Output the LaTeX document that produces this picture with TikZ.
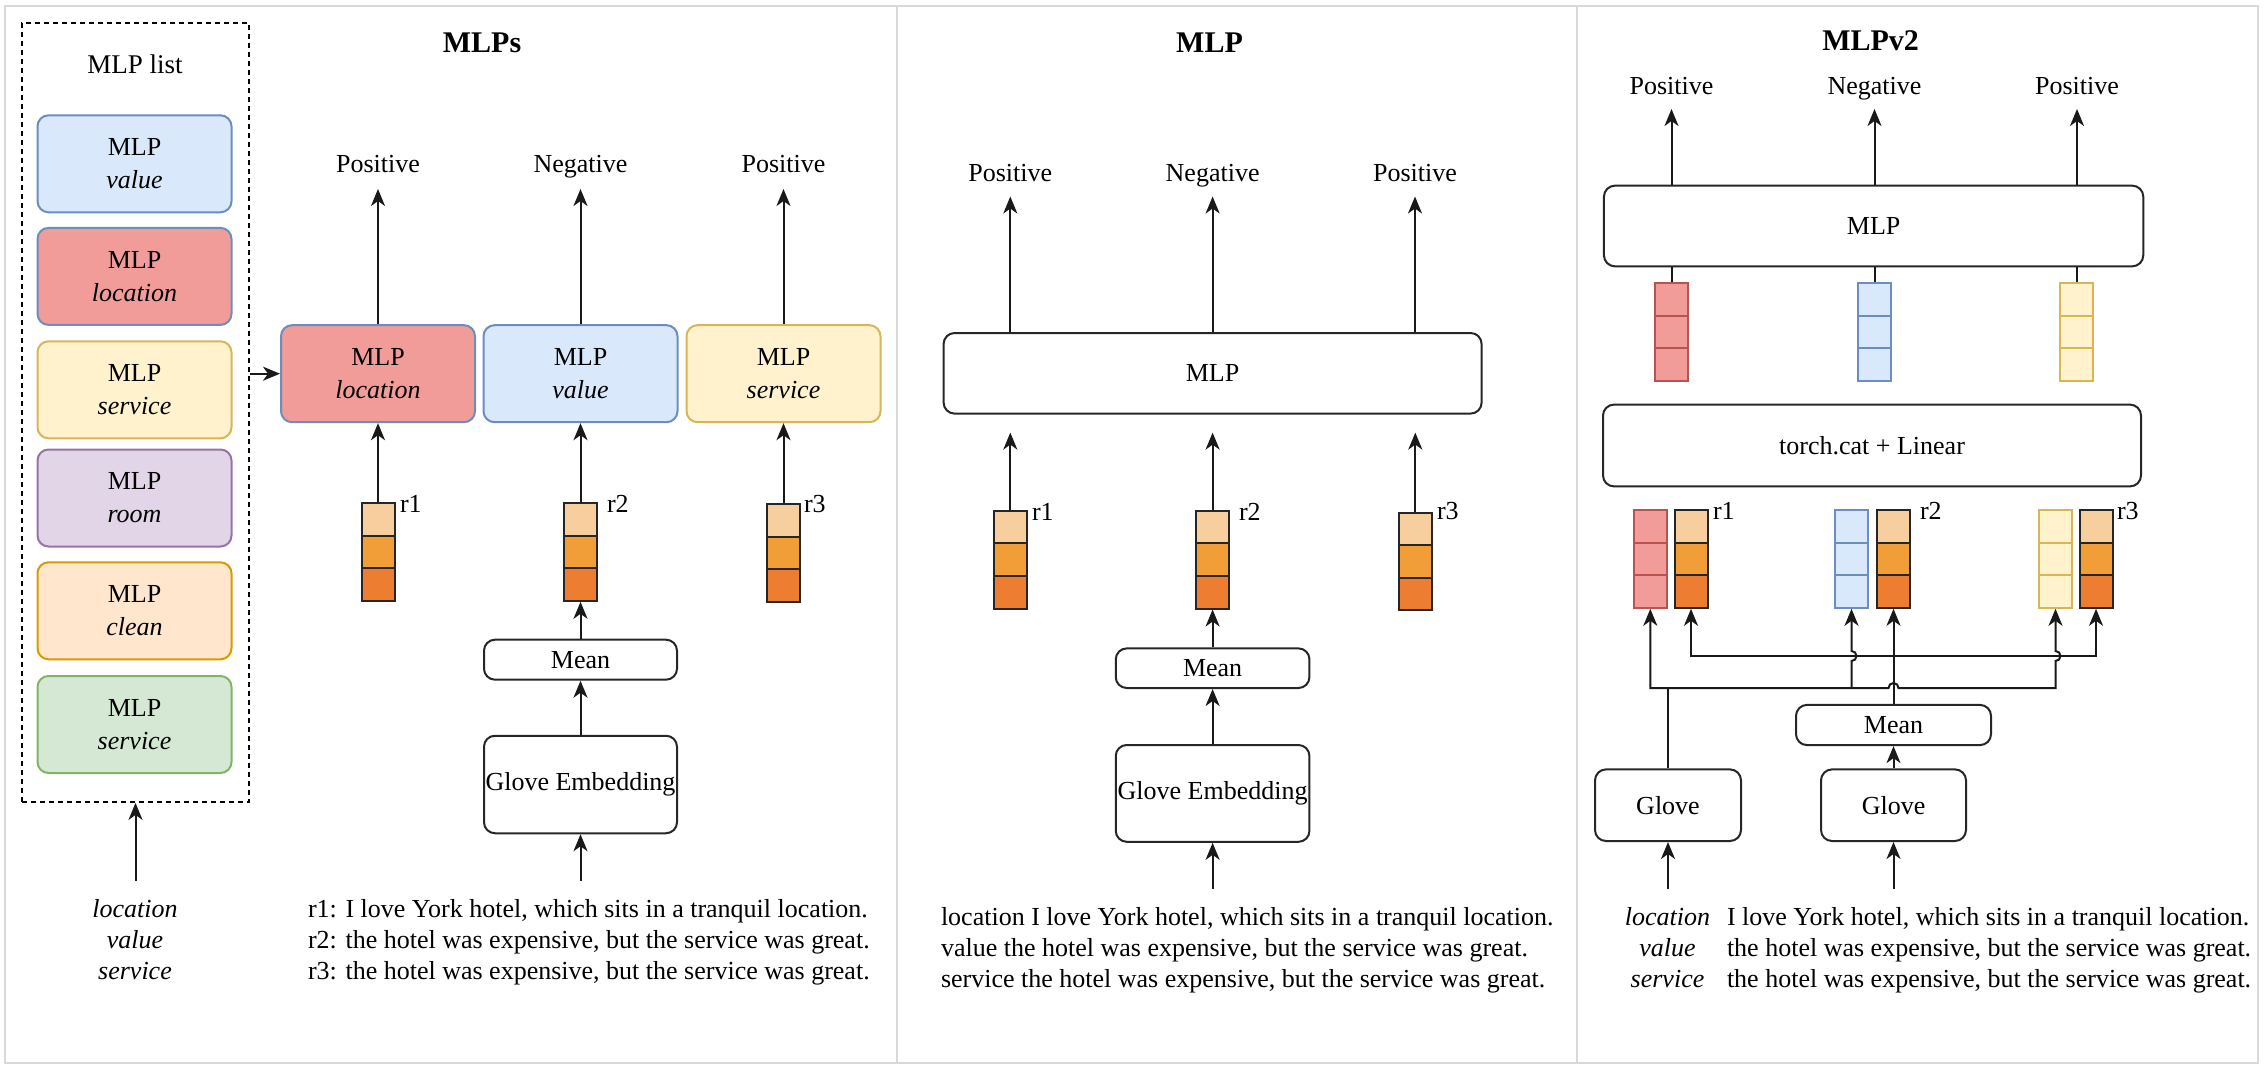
\documentclass[tikz,border=0pt]{standalone}
\usepackage{fontspec}
\setmainfont{Liberation Serif}
\usetikzlibrary{arrows.meta,calc}
\definecolor{cBlue}{HTML}{DAE8FC}\definecolor{sBlue}{HTML}{6C8EBF}
\definecolor{cRed}{HTML}{F19C99}\definecolor{sRed}{HTML}{B85450}
\definecolor{cYel}{HTML}{FFF2CC}\definecolor{sYel}{HTML}{D6B656}
\definecolor{cPur}{HTML}{E1D5E7}\definecolor{sPur}{HTML}{9673A6}
\definecolor{cOra}{HTML}{FFE6CC}\definecolor{sOra}{HTML}{D79B00}
\definecolor{cGrn}{HTML}{D5E8D4}\definecolor{sGrn}{HTML}{82B366}
\definecolor{oA}{HTML}{F7CE9E}\definecolor{oB}{HTML}{F19D38}\definecolor{oC}{HTML}{ED7D31}
\definecolor{panelgray}{HTML}{D9D9D9}
\newcommand{\mkvec}[7]{%
  \node[cell,draw=#7,fill=#4] (#1a) at (#2,#3+16.3) {};
  \node[cell,draw=#7,fill=#5] (#1b) at (#2,#3+48.9) {};
  \node[cell,draw=#7,fill=#6] (#1c) at (#2,#3+81.5) {};}
\begin{document}
\begin{tikzpicture}[x=1pt,y=-1pt,line width=2pt,
  txt/.style={font=\fontsize{26}{33}\selectfont},
  box/.style={txt,draw=black!85,rounded corners=11pt,line width=2pt,inner sep=0pt,align=center},
  mlpbox/.style={box,minimum width=194pt,minimum height=97pt},
  cell/.style={line width=2pt,minimum width=33pt,minimum height=32.6pt,inner sep=0pt},
  lab/.style={txt,inner sep=0pt,anchor=base},
  ttl/.style={font=\fontsize{30}{36}\selectfont\bfseries,inner sep=0pt},
  arr/.style={-{Stealth[length=17pt,width=14pt,inset=5pt]},line width=2pt,draw=black!90},
  arrb/.style={{Stealth[length=17pt,width=14pt,inset=5pt]}-{Stealth[length=17pt,width=14pt,inset=5pt]},line width=2pt,draw=black!90},
  ln/.style={line width=2pt,draw=black!90},
  panel/.style={draw=panelgray,line width=2.5pt}]
\useasboundingbox (0,0) rectangle (2268,1076);
% panels
\draw[panel] (5,6) rectangle (897,1063);
\draw[panel] (897,6) rectangle (1577,1063);
\draw[panel] (1577,6) rectangle (2258,1063);

%%%%%%%%%%%%%%%% Panel 1: MLPs
\node[ttl] (t1) at (482,43) {MLPs};
\node[draw,dashed,dash pattern=on 5pt off 4pt,line width=1.8pt,minimum width=227pt,minimum height=779pt,inner sep=0pt] (list) at (135.5,412.5) {};
\node[txt,inner sep=0pt,font=\fontsize{27}{33}\selectfont] (listT) at (135,64) {MLP list};
\node[mlpbox,fill=cBlue,draw=sBlue] (l1) at (134.5,163.8) {MLP\\\textit{value}};
\node[mlpbox,fill=cRed,draw=sBlue] (l2) at (134.5,276.4) {MLP\\\textit{location}};
\node[mlpbox,fill=cYel,draw=sYel] (l3) at (134.5,389.8) {MLP\\\textit{service}};
\node[mlpbox,fill=cPur,draw=sPur] (l4) at (134.5,498) {MLP\\\textit{room}};
\node[mlpbox,fill=cOra,draw=sOra] (l5) at (134.5,610.8) {MLP\\\textit{clean}};
\node[mlpbox,fill=cGrn,draw=sGrn] (l6) at (134.5,724.5) {MLP\\\textit{service}};

\node[mlpbox,fill=cRed,draw=sBlue] (pl) at (378,373.7) {MLP\\\textit{location}};
\node[mlpbox,fill=cBlue,draw=sBlue] (pv) at (580.5,373.7) {MLP\\\textit{value}};
\node[mlpbox,fill=cYel,draw=sYel] (ps) at (783.5,373.7) {MLP\\\textit{service}};
\node[lab] (o11) at (378,172) {Positive};
\node[lab] (o12) at (580.5,172) {Negative};
\node[lab] (o13) at (783.5,172) {Positive};
\draw[arr] (pl.north) -- ([yshift=-17pt]o11.base);
\draw[arr] (pv.north) -- ([yshift=-17pt]o12.base);
\draw[arr] (ps.north) -- ([yshift=-17pt]o13.base);
\draw[arr] (list.east |- pl.west) -- (pl.west);

\mkvec{va}{378}{503}{oA}{oB}{oC}{black!85}
\mkvec{vb}{580.5}{503}{oA}{oB}{oC}{black!85}
\mkvec{vc}{783.5}{504}{oA}{oB}{oC}{black!85}
\node[lab,anchor=west] (r11) at (399,504) {r1};
\node[lab,anchor=west] (r12) at (606,504) {r2};
\node[lab,anchor=west] (r13) at (803,504) {r3};
\draw[arr] (vaa.north) -- (pl.south);
\draw[arr] (vba.north) -- (pv.south);
\draw[arr] (vca.north) -- (ps.south);

\node[box,minimum width=193pt,minimum height=40pt] (m1) at (580.5,659.7) {Mean};
\node[box,minimum width=193pt,minimum height=97.5pt] (g1) at (580.5,784.5) {Glove Embedding};
\draw[arr] (m1.north) -- (vbc.south);
\draw[arr] (g1.north) -- (m1.south);
\coordinate (in1) at (580.5,881);
\draw[arr] (in1) -- (g1.south);
\coordinate (in0) at (135.5,881);
\draw[arr] (in0) -- (list.south);

\node[lab] (w11) at (135,917.5) {\textit{location}};
\node[lab] (w12) at (135,948) {\textit{value}};
\node[lab] (w13) at (135,979) {\textit{service}};
\node[lab,anchor=base west] (s11) at (307,917.5) {r1: I love York hotel, which sits in a tranquil location.};
\node[lab,anchor=base west] (s12) at (307,948) {r2: the hotel was expensive, but the service was great.};
\node[lab,anchor=base west] (s13) at (307,979) {r3: the hotel was expensive, but the service was great.};

%%%%%%%%%%%%%%%% Panel 2: MLP
\node[ttl] (t2) at (1209.5,43) {MLP};
\node[lab] (o21) at (1010.3,181.5) {Positive};
\node[lab] (o22) at (1212.6,181.5) {Negative};
\node[lab] (o23) at (1415,181.5) {Positive};
\node[box,minimum width=538pt,minimum height=80.6pt] (mm2) at (1212.6,373.3) {MLP};
\draw[arr] (o21.base |- mm2.north) -- ([yshift=-15pt]o21.base);
\draw[arr] (o22.base |- mm2.north) -- ([yshift=-15pt]o22.base);
\draw[arr] (o23.base |- mm2.north) -- ([yshift=-15pt]o23.base);

\mkvec{qa}{1010.3}{510.7}{oA}{oB}{oC}{black!85}
\mkvec{qb}{1212.6}{510.7}{oA}{oB}{oC}{black!85}
\mkvec{qc}{1415.3}{512.6}{oA}{oB}{oC}{black!85}
\node[lab,anchor=west] (r21) at (1031,511.5) {r1};
\node[lab,anchor=west] (r22) at (1238,511.5) {r2};
\node[lab,anchor=west] (r23) at (1436,511.5) {r3};
\draw[arr,shorten >=18pt] (qaa.north) -- (qaa.north |- mm2.south);
\draw[arr,shorten >=18pt] (qba.north) -- (qba.north |- mm2.south);
\draw[arr,shorten >=18pt] (qca.north) -- (qca.north |- mm2.south);

\node[box,minimum width=193.7pt,minimum height=39.6pt] (m2) at (1212.6,668.2) {Mean};
\node[box,minimum width=193.7pt,minimum height=96.8pt] (g2) at (1212.6,793.4) {Glove Embedding};
\draw[arr] (m2.north) -- (qbc.south);
\draw[arr] (g2.north) -- (m2.south);
\coordinate (in2) at (1212.6,889);
\draw[arr] (in2) -- (g2.south);
\node[lab,anchor=base west] (s21) at (940,925) {location I love York hotel, which sits in a tranquil location.};
\node[lab,anchor=base west] (s22) at (940,956.5) {value the hotel was expensive, but the service was great.};
\node[lab,anchor=base west] (s23) at (940,987.5) {service the hotel was expensive, but the service was great.};

%%%%%%%%%%%%%%%% Panel 3: MLPv2
\node[ttl] (t3) at (1870.6,41) {MLPv2};
\node[lab] (o31) at (1671.5,94) {Positive};
\node[lab] (o32) at (1874.5,94) {Negative};
\node[lab] (o33) at (2077,94) {Positive};
\node[box,minimum width=539.3pt,minimum height=80.7pt] (mm3) at (1873.6,226) {MLP};
\draw[arr] (o31.base |- mm3.north) -- ([yshift=-15pt]o31.base);
\draw[arr] (o32.base |- mm3.north) -- ([yshift=-15pt]o32.base);
\draw[arr] (o33.base |- mm3.north) -- ([yshift=-15pt]o33.base);

\mkvec{ka}{1671.5}{283}{cRed}{cRed}{cRed}{sRed}
\mkvec{kb}{1874.5}{283}{cBlue}{cBlue}{cBlue}{sBlue}
\mkvec{kc}{2076.5}{283}{cYel}{cYel}{cYel}{sYel}
\draw[ln] (kaa.north) -- (kaa.north |- mm3.south);
\draw[ln] (kba.north) -- (kba.north |- mm3.south);
\draw[ln] (kca.north) -- (kca.north |- mm3.south);

\node[box,minimum width=538pt,minimum height=81.8pt] (tc) at (1872,445.5) {torch.cat + Linear};

\mkvec{xr}{1650.3}{510}{cRed}{cRed}{cRed}{sRed}
\mkvec{xo1}{1691}{510}{oA}{oB}{oC}{black!85}
\mkvec{xb}{1851.5}{510}{cBlue}{cBlue}{cBlue}{sBlue}
\mkvec{xo2}{1893.5}{510}{oA}{oB}{oC}{black!85}
\mkvec{xy}{2055.5}{510}{cYel}{cYel}{cYel}{sYel}
\mkvec{xo3}{2096}{510}{oA}{oB}{oC}{black!85}
\node[lab,anchor=west] (r31) at (1712,511) {r1};
\node[lab,anchor=west] (r32) at (1919,511) {r2};
\node[lab,anchor=west] (r33) at (2116,511) {r3};

\node[box,minimum width=195pt,minimum height=40.2pt] (m3) at (1893.5,725) {Mean};
\node[box,minimum width=146pt,minimum height=71.6pt] (gL) at (1668,805.2) {Glove};
\node[box,minimum width=145pt,minimum height=71.6pt] (gR) at (1893.5,805.2) {Glove};
\coordinate (in3a) at (1668,889);
\coordinate (in3b) at (1893.5,889);
\draw[arr] (in3a) -- (gL.south);
\draw[arr] (in3b) -- (gR.south);
\draw[arr] (gR.north) -- (m3.south);

\coordinate (busA) at (0,688);
\coordinate (busB) at (0,656);
\draw[ln] (gL.north) -- (gL.north |- busA);
\draw[arr] (m3.north) -- (xo2c.south);
\draw[arrb] (xo1c.south) -- (xo1c.south |- busB) -- (xo3c.south |- busB) -- (xo3c.south);
\draw[arrb] (xrc.south) -- (xrc.south |- busA)
  -- ($(xo2c.south |- busA)+(-5,0)$) arc[start angle=180,end angle=0,radius=5pt]
  -- (xyc.south |- busA)
  -- ($(xyc.south |- busB)+(0,5)$) arc[start angle=-90,end angle=90,radius=5pt]
  -- (xyc.south);
\draw[arr] (xbc.south |- busA)
  -- ($(xbc.south |- busB)+(0,5)$) arc[start angle=-90,end angle=90,radius=5pt]
  -- (xbc.south);

\node[lab] (w31) at (1667.5,925) {\textit{location}};
\node[lab] (w32) at (1667.5,956.5) {\textit{value}};
\node[lab] (w33) at (1667.5,987.5) {\textit{service}};
\node[lab,anchor=base west] (s31) at (1726,925) {I love York hotel, which sits in a tranquil location.};
\node[lab,anchor=base west] (s32) at (1726,956.5) {the hotel was expensive, but the service was great.};
\node[lab,anchor=base west] (s33) at (1726,987.5) {the hotel was expensive, but the service was great.};
\end{tikzpicture}
\end{document}
